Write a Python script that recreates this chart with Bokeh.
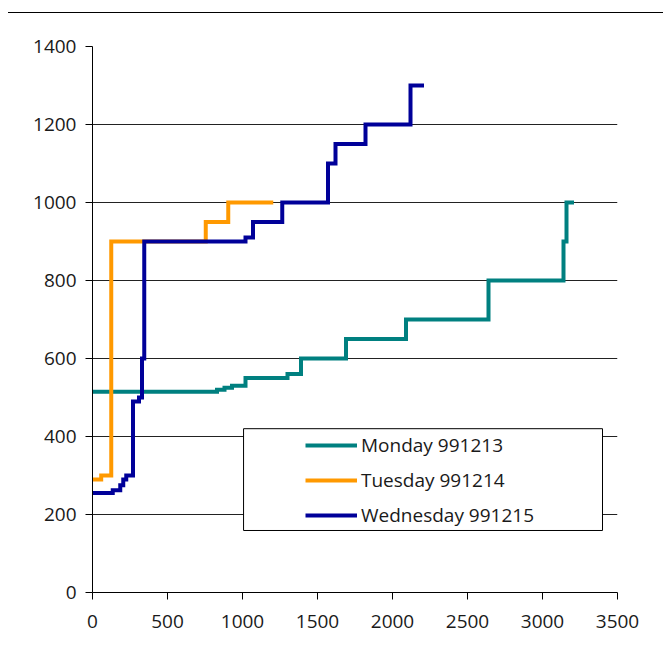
from bokeh.plotting import figure
from bokeh.models import (Range1d, FixedTicker, Legend, LegendItem, BoxAnnotation)
from bokeh.embed import file_html
from bokeh.resources import INLINE

# ---- data ----
mon_x = [0, 830, 880, 930, 1020, 1300, 1390, 1690, 2090, 2640, 3140, 3160, 3210]
mon_y = [515, 520, 525, 530, 550, 560, 600, 650, 700, 800, 900, 1000, 1000]

tue_x = [0, 58, 125, 755, 905, 1205]
tue_y = [290, 300, 900, 950, 1000, 1000]

wed_x = [0, 135, 185, 205, 225, 270, 310, 330, 345, 1020, 1070, 1265, 1570, 1620, 1820, 2120, 2210]
wed_y = [255, 262, 275, 290, 300, 490, 500, 600, 900, 910, 950, 1000, 1100, 1150, 1200, 1300, 1300]

series_labels = ["Monday 991213", "Tuesday 991214", "Wednesday 991215"]
series_colors = ["#008080", "#FF9900", "#000099"]

x_ticks = [0, 500, 1000, 1500, 2000, 2500, 3000, 3500]
y_ticks = [0, 200, 400, 600, 800, 1000, 1200, 1400]

FONT = "Open Sans"
FS = "19px"

p = figure(width=655, height=636, output_backend="svg", toolbar_location=None,
           x_range=Range1d(0, 3500), y_range=Range1d(0, 1400),
           min_border_left=84, min_border_right=46, min_border_top=33, min_border_bottom=57)
p.styles = {"border-top": "1px solid #000", "margin-top": "12px", "margin-left": "8px"}
p.outline_line_color = None
p.background_fill_color = "white"
p.border_fill_color = "white"

p.xgrid.grid_line_color = None
p.ygrid.grid_line_color = "#222222"
p.ygrid.grid_line_width = 1
p.ygrid.ticker = FixedTicker(ticks=y_ticks)

for ax, ticks in ((p.xaxis[0], x_ticks), (p.yaxis[0], y_ticks)):
    ax.ticker = FixedTicker(ticks=ticks)
    ax.axis_line_color = "black"
    ax.major_tick_line_color = "black"
    ax.major_tick_out = 7
    ax.major_tick_in = 0
    ax.minor_tick_line_color = None
    ax.major_label_text_font = FONT
    ax.major_label_text_font_size = FS
    ax.major_label_text_color = "#1a1a1a"

p.xaxis[0].major_label_standoff = 15
p.yaxis[0].major_label_standoff = 9

rs = []
for xs, ys, c in ((mon_x, mon_y, series_colors[0]),
                  (tue_x, tue_y, series_colors[1]),
                  (wed_x, wed_y, series_colors[2])):
    r = p.step(xs, ys, mode="after", line_color=c, line_width=4,
               line_join="miter", line_cap="butt")
    rs.append(r)

box = BoxAnnotation(left=1007, right=3400, bottom=159, top=420,
                    fill_color="white", fill_alpha=1.0,
                    line_color="black", line_width=1, line_alpha=1.0)
p.add_layout(box)

legend = Legend(items=[LegendItem(label=l, renderers=[r]) for l, r in zip(series_labels, rs)],
                location=(213, 64), padding=0, margin=0, spacing=9,
                label_height=24, glyph_height=24, glyph_width=52, label_standoff=4,
                border_line_color=None, background_fill_alpha=0,
                label_text_font=FONT, label_text_font_size=FS, label_text_color="#1a1a1a")
p.add_layout(legend, "center")

open("out.html", "w").write(file_html(p, INLINE))
